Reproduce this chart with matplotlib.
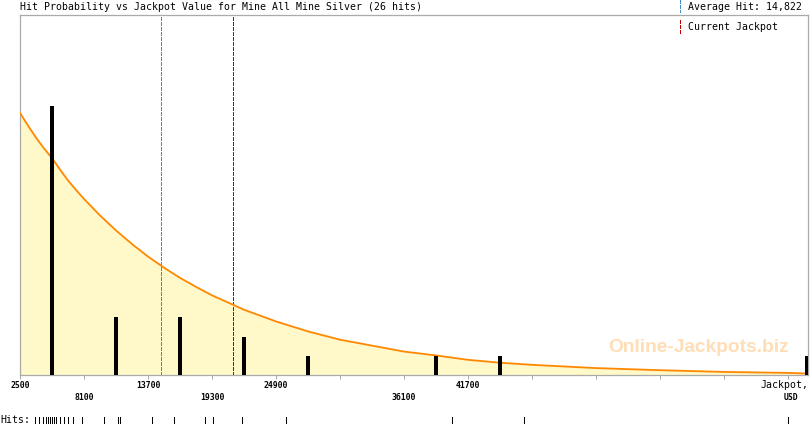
#Histogram of jackpot hits with fitted probability curve
import numpy as np
import matplotlib.pyplot as plt
import matplotlib.transforms as mtransforms
from matplotlib.lines import Line2D

#hit histogram (bin centres in USD, number of hits)
bin_centres = [5300, 10900, 16500, 22100, 27700, 38900, 44500, 71300]
bin_counts = [14, 3, 3, 2, 1, 1, 1, 1]

#individual hits (USD) shown on the "Hits:" strip
hits = [3810, 4160, 4510, 4780, 4950, 5130, 5300, 5480, 5650, 6000, 6350, 6700,
        7140, 7930, 9820, 11050, 11280, 14020, 16000, 18660, 19410, 21950,
        25800, 40330, 46630, 69730]

#probability curve (USD, height in hits)
curve_usd = [2500, 3200, 3900, 4600, 5300, 6000, 6700, 7400, 8100, 9500,
             10900, 12300, 13700, 15100, 16500, 17900, 19300, 22100, 24900,
             27700, 30500, 33300, 36100, 38900, 41700, 44500, 47300, 52900,
             58500, 64100, 69700, 71200, 71450]
curve_hits = [13.65, 12.99, 12.36, 11.80, 11.30, 10.70, 10.13, 9.64, 9.17, 8.31,
              7.53, 6.82, 6.17, 5.59, 5.06, 4.59, 4.15, 3.40, 2.79,
              2.27, 1.84, 1.53, 1.22, 1.02, 0.79, 0.64, 0.53, 0.36,
              0.25, 0.16, 0.11, 0.08, 0.0]

#axis ticks
tick_values = [2500 + 5600 * i for i in range(13)]
labels_row1 = [2500, 13700, 24900, 41700]
labels_row2 = [8100, 19300, 36100]

average_hit = 14822
current_jackpot = 21140
title = 'Hit Probability vs Jackpot Value for Mine All Mine Silver (26 hits)'

W, H = 810, 425
fig = plt.figure(figsize=(W / 100, H / 100), dpi=100)
ax = fig.add_axes([20 / W, 50 / H, 788 / W, 360 / H])

grey = '#AAAAAA'
mono = 'DejaVu Sans Mono'
blue = '#3B8FC4'
red = '#C00000'

#fill + curve
ax.fill_between(curve_usd, curve_hits, 0, color='#FFF8C8', lw=0, zorder=1)
ax.plot(curve_usd, curve_hits, color='#FF8800', lw=1.3, zorder=3)

#hit bars
ax.bar(bin_centres, bin_counts, width=300, color='black', zorder=4)

#average hit / current jackpot markers
ax.axvline(average_hit, color=blue, lw=0.72, dashes=(4, 2), zorder=2, antialiased=False)
ax.axvline(current_jackpot, color=red, lw=0.72, dashes=(4, 2), zorder=2, antialiased=False)

#watermark
ax.text(61900, 1.45, 'Online-Jackpots.biz', ha='center', va='center',
        fontsize=13.8, fontweight='bold', family='Liberation Sans',
        color='#FFDDB5', zorder=2)

ax.set_xlim(2500, 71450)
ax.set_ylim(0, 18.75)
ax.set_yticks([])
ax.set_xticks(tick_values)
ax.set_xticklabels([])
ax.tick_params(axis='x', direction='out', length=3.2, width=0.72, color=grey)
for s in ax.spines.values():
    s.set_color(grey)
    s.set_linewidth(0.9)

#tick labels on two rows
trans = mtransforms.blended_transform_factory(ax.transData, ax.transAxes)
for v in labels_row1:
    ax.text(v, -10 / 360, str(v), transform=trans, ha='center', va='center',
            family=mono, fontweight='bold', fontsize=5.9)
for v in labels_row2:
    ax.text(v, -23 / 360, str(v), transform=trans, ha='center', va='center',
            family=mono, fontweight='bold', fontsize=5.9)
fig.text(808 / W, 1 - 385 / H, 'Jackpot,', ha='right', va='center',
         family=mono, fontsize=7.1)
fig.text(791 / W, 1 - 398 / H, 'USD', ha='center', va='center',
         family=mono, fontweight='bold', fontsize=5.9)

#hits strip
fig.text(0, 1 - 420 / H, 'Hits:', ha='left', va='center', family=mono, fontsize=7.1)
ax.vlines(hits, -42 / 360, -48 / 360, transform=trans, color='black',
          lw=0.72, clip_on=False, antialiased=False)

#title and legend
fig.text(20 / W, 1 - 7 / H, title, ha='left', va='center', family=mono, fontsize=7.1)
fig.add_artist(Line2D([680 / W, 680 / W], [1 - 0 / H, 1 - 12 / H], color=blue,
                      lw=0.72, dashes=(4, 2), antialiased=False,
                      transform=fig.transFigure))
fig.add_artist(Line2D([680 / W, 680 / W], [1 - 20 / H, 1 - 33 / H], color=red,
                      lw=0.72, dashes=(4, 2), antialiased=False,
                      transform=fig.transFigure))
fig.text(688 / W, 1 - 7 / H, 'Average Hit: {:,}'.format(average_hit), ha='left',
         va='center', family=mono, fontsize=7.1)
fig.text(688 / W, 1 - 27 / H, 'Current Jackpot', ha='left', va='center',
         family=mono, fontsize=7.1)

fig.savefig('out.png', dpi=100)
